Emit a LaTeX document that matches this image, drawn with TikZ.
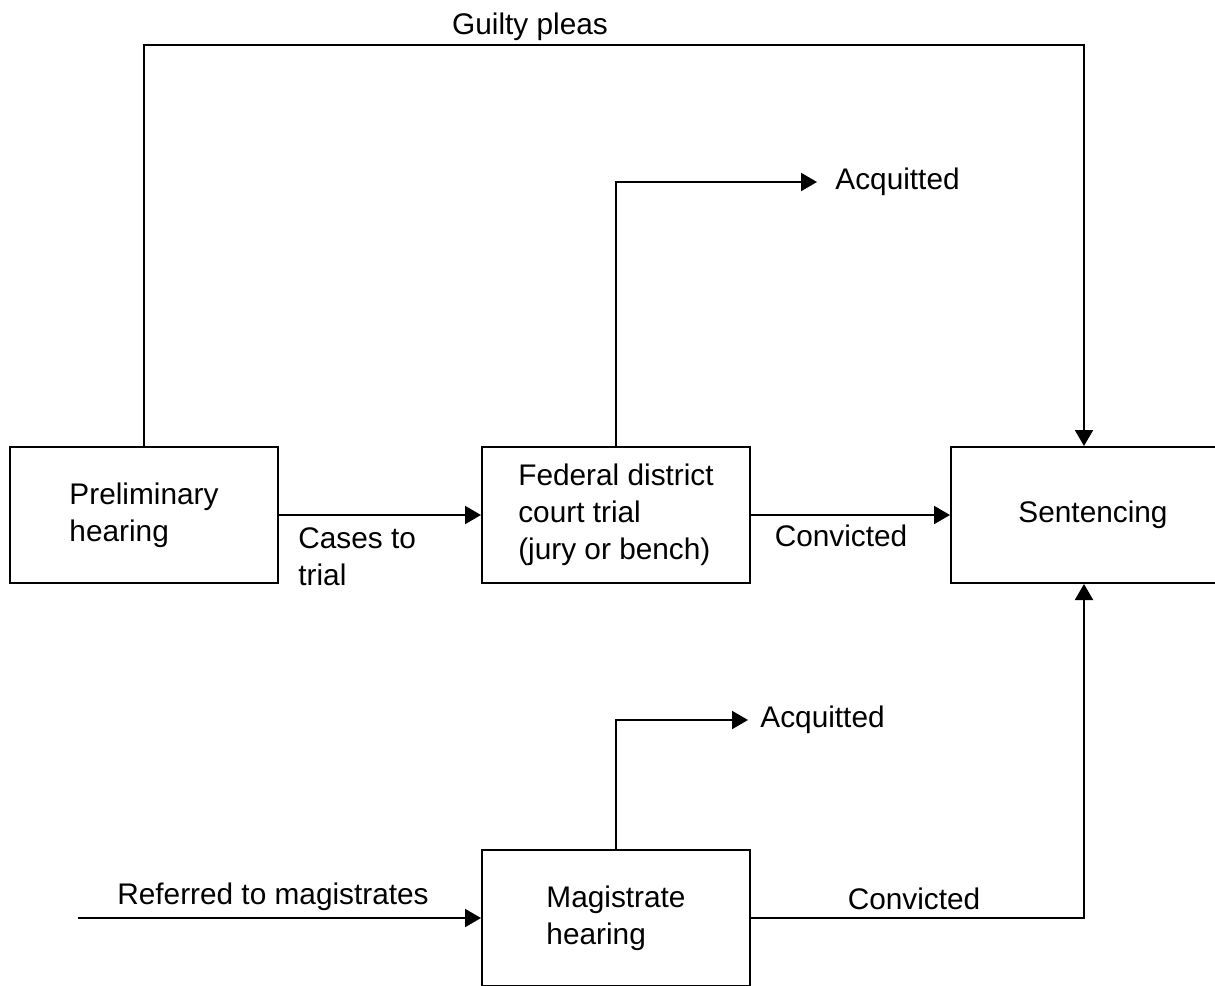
\documentclass[tikz,border=0pt]{standalone}
\usepackage{fontspec}
\setmainfont{Liberation Sans}
\usetikzlibrary{arrows.meta}

\begin{document}
\begin{tikzpicture}[x=0.5pt,y=-0.5pt]
		\useasboundingbox (0,0) rectangle (1215,985);
		\tikzstyle{every node}+=[font=\fontsize{14.9pt}{18.5pt}\selectfont]
		\tikzstyle{stage}=[draw,line width=1pt,minimum width=134pt,minimum height=68pt,align=left,inner sep=0pt]
		\tikzstyle{lbl}=[inner sep=0pt,align=left]
		\tikzstyle{flow}=[line width=1pt,-{Triangle[length=8pt,width=9pt]}]
		\node[stage] (prelim) at (144,515) {Preliminary\\hearing};
		\node[stage] (fed) at (616,515) {Federal district\\court trial\\(jury or bench)};
		\node[stage,minimum width=142pt] (sent) at (1093,515) {Sentencing};
		\node[stage] (mag) at (616,918) {Magistrate\\hearing};
		\node[lbl] (pleas) at (530,27) {Guilty pleas};
		\node[lbl,anchor=west,inner xsep=9pt] (acqtop) at (817,182) {Acquitted};
		\node[lbl,anchor=west] (cases) at (298,557) {Cases to\\trial};
		\node[lbl] (convtop) at (841,536) {Convicted};
		\node[lbl,anchor=west,inner xsep=6pt] (acqbot) at (748,720) {Acquitted};
		\node[lbl] (referred) at (273,897) {Referred to magistrates};
		\node[lbl] (convbot) at (914,899) {Convicted};
		\coordinate (top) at (600,45);
		\coordinate (ref) at (78,918);
		\coordinate (sx) at (1084,515);
		\draw[flow] (prelim.north) |- (top) -| (sx |- sent.north);
		\draw[flow] (fed.north) |- (acqtop.west);
		\draw[flow] (prelim) -- (fed);
		\draw[flow] (fed) -- (sent.west);
		\draw[flow] (mag.north) |- (acqbot.west);
		\draw[flow] (ref) -- (mag);
		\draw[flow] (mag.east) -| (sx |- sent.south);
\end{tikzpicture}
\end{document}
